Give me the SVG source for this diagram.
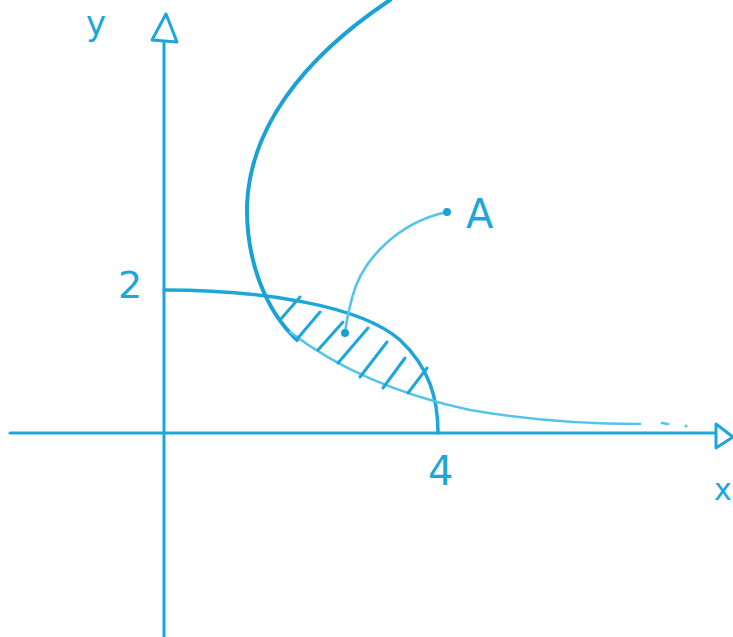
<svg xmlns="http://www.w3.org/2000/svg" width="733" height="637" viewBox="0 0 733 637">
<style>
.ax{fill:none;stroke:#1ea6d8;stroke-width:3;stroke-linecap:round;stroke-linejoin:round}
.thick{fill:none;stroke:#1aa2d4;stroke-width:4;stroke-linecap:round}
.mid{fill:none;stroke:#1ea6d8;stroke-width:3.5;stroke-linecap:round}
.light{fill:none;stroke:#55c4ea;stroke-width:2.6;stroke-linecap:round}
.hatch{fill:none;stroke:#1ea6d8;stroke-width:3;stroke-linecap:round}
.lbl{fill:#1ea6d8;font-family:"DejaVu Sans","Liberation Sans",sans-serif}
</style>
<rect width="733" height="637" fill="#ffffff"/>
<g id="axes">
  <line class="ax" x1="164" y1="42" x2="164" y2="637"/>
  <path class="ax" d="M166,14 L152,40 L177,42 Z"/>
  <line class="ax" x1="10" y1="433" x2="715" y2="433"/>
  <path class="ax" d="M716,424 L733,437 L716,448 Z"/>
</g>
<g id="labels">
  <text class="lbl" x="86" y="35" font-size="34">y</text>
  <text class="lbl" x="118" y="298" font-size="38">2</text>
  <text class="lbl" x="428" y="485" font-size="40">4</text>
  <text class="lbl" x="466" y="228" font-size="40">A</text>
  <text class="lbl" x="714" y="500" font-size="30">x</text>
</g>
<g id="curves">
  <path id="ellipse" class="mid" d="M164,290 C260,290 360,305 400,340 C430,368 438,400 438,433"/>
  <path id="parabola" class="thick" d="M390,0 C300,60 250,130 247,205 C246,260 265,310 297,340"/>
  <path id="exp" class="light" d="M290,332 C340,370 400,395 470,410 C540,422 600,424 640,424"/>
  <line class="light" x1="662" y1="423" x2="668" y2="424" stroke-width="3"/>
  <circle cx="686" cy="426" r="1.6" fill="#55c4ea"/>
</g>
<g id="hatching">
  <line class="hatch" x1="280" y1="320" x2="300" y2="297"/>
  <line class="hatch" x1="298" y1="338" x2="320" y2="312"/>
  <line class="hatch" x1="318" y1="350" x2="343" y2="322"/>
  <line class="hatch" x1="338" y1="363" x2="368" y2="328"/>
  <line class="hatch" x1="360" y1="377" x2="387" y2="342"/>
  <line class="hatch" x1="383" y1="388" x2="405" y2="358"/>
  <line class="hatch" x1="408" y1="393" x2="427" y2="368"/>
</g>
<g id="connectors">
  <path class="light" stroke="#2eb0e0" stroke-width="2.2" d="M447,212 C400,222 362,258 352,298 C348,314 346,324 345,333"/>
  <circle cx="447" cy="212" r="4" fill="#1aa2d4"/>
  <circle cx="345" cy="333" r="4" fill="#1aa2d4"/>
</g>
</svg>
